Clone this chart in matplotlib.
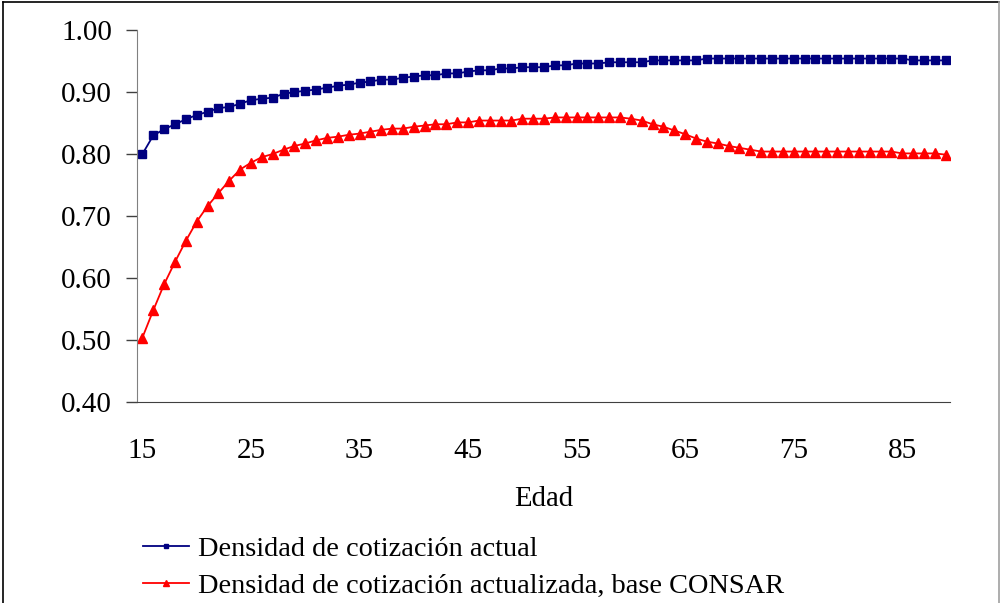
import matplotlib
matplotlib.use("Agg")
import matplotlib.pyplot as plt
from matplotlib.lines import Line2D
import numpy as np

# edades 15..89
edad = list(range(15, 90))

# densidad de cotización actual
actual = [0.800, 0.830, 0.840, 0.848, 0.856, 0.863, 0.868, 0.874, 0.876, 0.881,
          0.887, 0.889, 0.891, 0.897, 0.900, 0.902, 0.904, 0.907, 0.910, 0.912,
          0.915, 0.917, 0.920, 0.920, 0.923, 0.925, 0.927, 0.927, 0.930, 0.930,
          0.933, 0.935, 0.935, 0.938, 0.938, 0.940, 0.940, 0.940, 0.943, 0.943,
          0.946, 0.946, 0.946, 0.948, 0.948, 0.948, 0.948, 0.951, 0.951, 0.951,
          0.951, 0.951, 0.954, 0.954, 0.954, 0.954, 0.954, 0.954, 0.954, 0.954,
          0.954, 0.954, 0.954, 0.954, 0.954, 0.954, 0.954, 0.954, 0.954, 0.954,
          0.954, 0.951, 0.951, 0.951, 0.951]

# densidad actualizada, base CONSAR
consar = [0.504, 0.548, 0.590, 0.626, 0.660, 0.691, 0.716, 0.737, 0.757, 0.775,
          0.786, 0.795, 0.800, 0.807, 0.813, 0.817, 0.822, 0.826, 0.828, 0.831,
          0.833, 0.836, 0.839, 0.841, 0.841, 0.844, 0.846, 0.848, 0.848, 0.851,
          0.851, 0.854, 0.854, 0.854, 0.854, 0.857, 0.857, 0.857, 0.859, 0.859,
          0.859, 0.859, 0.859, 0.859, 0.859, 0.857, 0.854, 0.848, 0.844, 0.838,
          0.832, 0.825, 0.820, 0.817, 0.813, 0.810, 0.807, 0.804, 0.804, 0.804,
          0.804, 0.804, 0.804, 0.804, 0.804, 0.804, 0.804, 0.804, 0.804, 0.804,
          0.801, 0.801, 0.801, 0.801, 0.799]

xticks = [15, 25, 35, 45, 55, 65, 75, 85]
yticks = [0.40, 0.50, 0.60, 0.70, 0.80, 0.90, 1.00]

plt.rcParams['font.family'] = ['Liberation Serif', 'DejaVu Serif']

fig = plt.figure(figsize=(10, 6.03), dpi=100)
ax = fig.add_axes([0.137, 0.3333, 0.813, 0.6169])

ax.plot(edad, actual, color='#000080', lw=1.3, marker='s', ms=5.5,
        label='Densidad de cotización actual')
ax.plot(edad, consar, color='#ff0000', lw=1.3, marker='^', ms=6.5,
        label='Densidad de cotización actualizada, base CONSAR')

ax.set_xlim(14.5, 89.4)
ax.set_ylim(0.40, 1.00)
ax.set_xticks(xticks)
ax.set_yticks(yticks)
ax.set_yticklabels([f'{v:.2f}' for v in yticks])

ax.spines['top'].set_visible(False)
ax.spines['right'].set_visible(False)
ax.spines['left'].set_color('#808080')
ax.spines['bottom'].set_color('#404040')
ax.tick_params(axis='x', length=0, pad=26, labelsize=21)
ax.tick_params(axis='y', length=8, width=1, color='#404040', pad=10, labelsize=21)

ax.set_xlabel('Edad', fontsize=20.7, labelpad=16)

leg = ax.legend(loc='upper left', bbox_to_anchor=(0.0074, -0.36), frameon=False,
                fontsize=20.4, handlelength=1.63, handletextpad=0.32,
                labelspacing=0.4, markerscale=0.6, borderaxespad=0, borderpad=0)

# marco de la figura
fig.add_artist(Line2D([0.003, 0.999], [0.997, 0.997], color='black', lw=1.2,
                      transform=fig.transFigure))
fig.add_artist(Line2D([0.003, 0.003], [0.0, 0.997], color='black', lw=1.2,
                      transform=fig.transFigure))
fig.add_artist(Line2D([0.999, 0.999], [0.0, 0.997], color='#a0a0a0', lw=1.2,
                      transform=fig.transFigure))

fig.savefig('out.png', dpi=100)
